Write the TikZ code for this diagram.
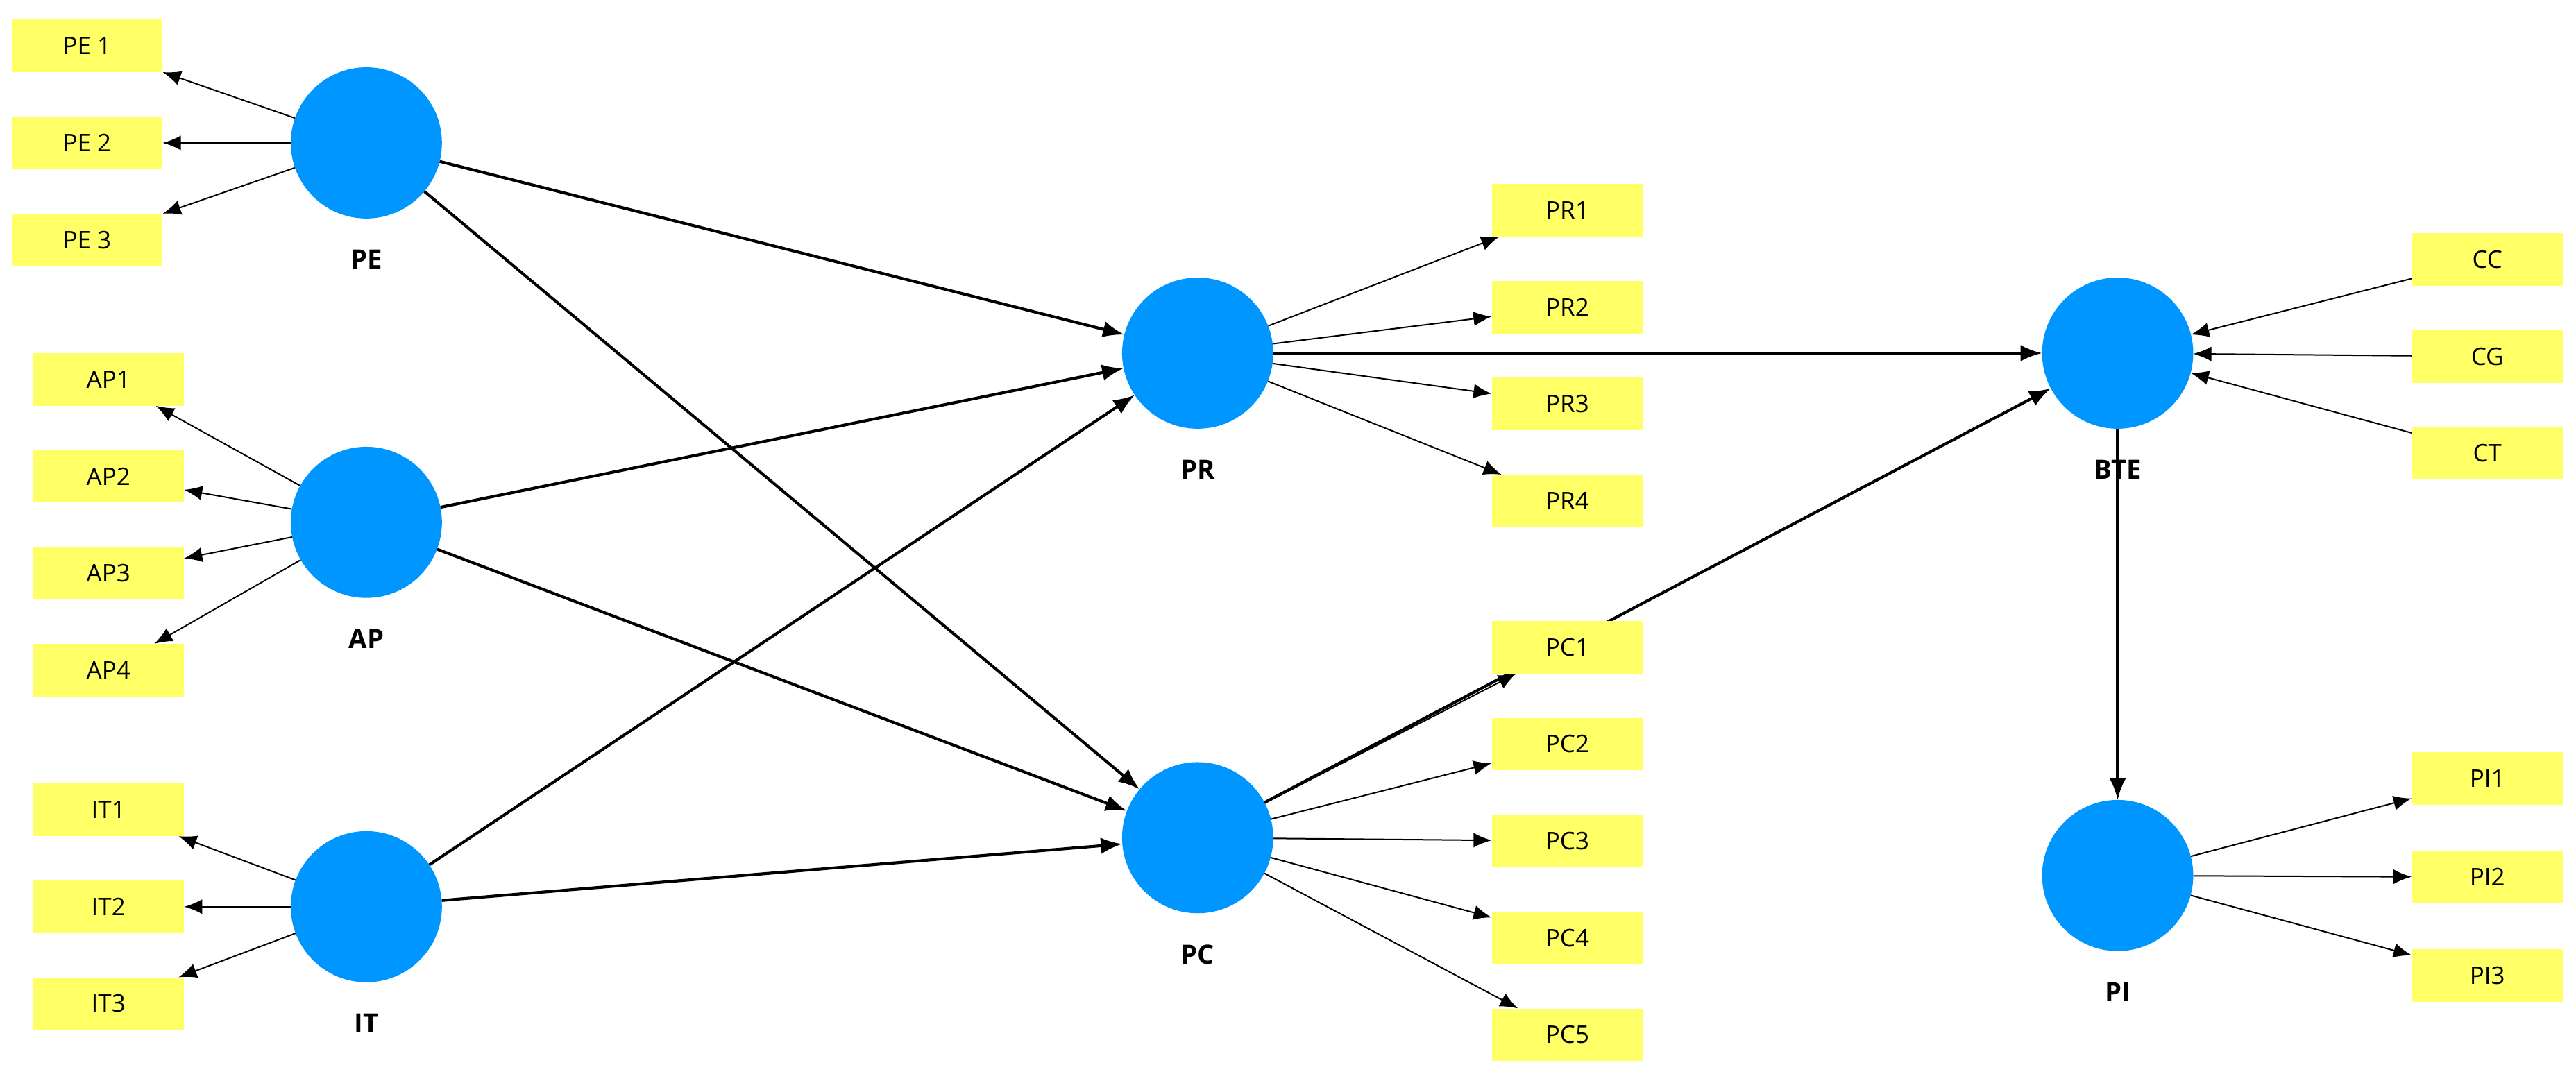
\documentclass[tikz,border=0pt]{standalone}
\usepackage{fontspec}
\setmainfont{Open Sans}
\usetikzlibrary{arrows.meta, positioning}
\definecolor{lvblue}{HTML}{0096FF}
\definecolor{mvyellow}{HTML}{FFFF66}
\tikzset{
  latent/.style = {circle, minimum size=92mm, inner sep=0pt, fill=lvblue},
  lvname/.style = {font=\fontsize{46}{50}\selectfont\bfseries},
  item/.style = {rectangle, minimum width=92mm, minimum height=32mm, inner sep=0pt, fill=mvyellow, font=\fontsize{42}{46}\selectfont},
  load/.style = {line width=2.4pt, -{Latex[length=11mm, width=9mm]}},
  path/.style = {line width=5pt, -{Latex[length=13mm, width=10mm]}}
}
\begin{document}
\begin{tikzpicture}[x=1mm, y=-1mm, node distance=18mm]
  \useasboundingbox (0,0) rectangle (1568,658);
  % latent variables
  \node (pe) [latent] at (223,87) {};
  \node (ap) [latent] at (223,318) {};
  \node (it) [latent] at (223,552) {};
  \node (pr) [latent] at (729,215) {};
  \node (pc) [latent] at (729,510) {};
  \node (bte) [latent] at (1289,215) {};
  \node (pi) [latent] at (1289,533) {};
  \node (pelab) [lvname, below=of pe] {PE};
  \node (aplab) [lvname, below=of ap] {AP};
  \node (itlab) [lvname, below=of it] {IT};
  \node (prlab) [lvname, below=of pr] {PR};
  \node (pclab) [lvname, below=of pc] {PC};
  \node (btelab) [lvname, below=of bte] {BTE};
  \node (pilab) [lvname, below=of pi] {PI};
  % structural paths
  \draw [path] (pe) -- (pr);
  \draw [path] (pe) -- (pc);
  \draw [path] (ap) -- (pr);
  \draw [path] (ap) -- (pc);
  \draw [path] (it) -- (pr);
  \draw [path] (it) -- (pc);
  \draw [path] (pr) -- (bte);
  \draw [path] (pc) -- (bte);
  \draw [path] (bte) -- (pi);
  % indicators
  \foreach \n/\t [count=\i] in {pe1/PE 1, pe2/PE 2, pe3/PE 3} {
    \node (\n) [item] at (53, 28+59*\i-59) {\t};
    \draw [load] (pe) -- (\n);
  }
  \foreach \n/\t [count=\i] in {ap1/AP1, ap2/AP2, ap3/AP3, ap4/AP4} {
    \node (\n) [item] at (66, 231+59*\i-59) {\t};
    \draw [load] (ap) -- (\n);
  }
  \foreach \n/\t [count=\i] in {it1/IT1, it2/IT2, it3/IT3} {
    \node (\n) [item] at (66, 493+59*\i-59) {\t};
    \draw [load] (it) -- (\n);
  }
  \foreach \n/\t [count=\i] in {pr1/PR1, pr2/PR2, pr3/PR3, pr4/PR4} {
    \node (\n) [item] at (954, 128+59*\i-59) {\t};
    \draw [load] (pr) -- (\n);
  }
  \foreach \n/\t [count=\i] in {pc1/PC1, pc2/PC2, pc3/PC3, pc4/PC4, pc5/PC5} {
    \node (\n) [item] at (954, 394+59*\i-59) {\t};
    \draw [load] (pc) -- (\n);
  }
  \foreach \n/\t [count=\i] in {cc/CC, cg/CG, ct/CT} {
    \node (\n) [item] at (1514, 158+59*\i-59) {\t};
    \draw [load] (\n) -- (bte);
  }
  \foreach \n/\t [count=\i] in {pi1/PI1, pi2/PI2, pi3/PI3} {
    \node (\n) [item] at (1514, 474+60*\i-60) {\t};
    \draw [load] (pi) -- (\n);
  }
\end{tikzpicture}
\end{document}
